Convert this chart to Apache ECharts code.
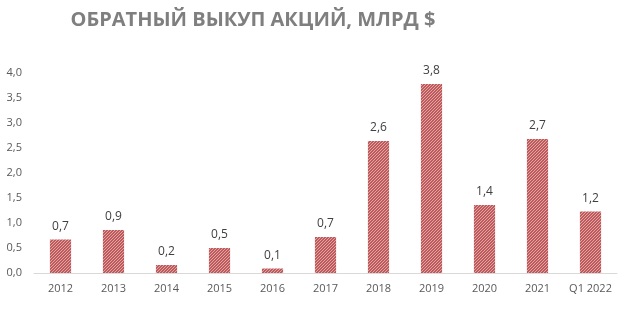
<!DOCTYPE html>
<html><head><meta charset="utf-8">
<script src="https://cdn.jsdelivr.net/npm/echarts@6/dist/echarts.min.js"></script>
<style>html,body{margin:0;padding:0;background:#fff}#c{width:620px;height:314px}</style>
</head><body><div id="c"></div>
<script>
const categories = ['2012','2013','2014','2015','2016','2017','2018','2019','2020','2021','Q1 2022'];
const values = [0.67,0.86,0.16,0.5,0.09,0.72,2.64,3.78,1.36,2.68,1.23];
const yTicks = [0,0.5,1,1.5,2,2.5,3,3.5,4];

const pc = document.createElement('canvas');
pc.width = 3; pc.height = 3;
const g = pc.getContext('2d');
g.fillStyle = '#bd5a5c'; g.fillRect(0,0,3,3);
g.fillStyle = '#e2a4a5';
g.fillRect(2,0,1,1); g.fillRect(1,1,1,1); g.fillRect(0,2,1,1);

const chart = echarts.init(document.getElementById('c'), null, {renderer:'canvas'});
chart.setOption({
  animation:false,
  title:{text:'ОБРАТНЫЙ ВЫКУП АКЦИЙ, МЛРД $', left:248, textAlign:'center', top:5,
    textStyle:{fontFamily:'Open Sans', fontWeight:'bold', fontSize:20, color:'#7f7f7f'}},
  grid:{left:34, right:3, top:73, bottom:41},
  xAxis:{type:'category', data:categories,
    axisLine:{lineStyle:{color:'#d9d9d9', width:1}}, axisTick:{show:false},
    axisLabel:{interval:0, color:'#595959', fontSize:11, fontFamily:'Open Sans', margin:10}},
  yAxis:{type:'value', min:0, max:4, interval:0.5,
    splitLine:{show:false}, axisLine:{show:false}, axisTick:{show:false},
    axisLabel:{color:'#595959', fontSize:11, fontFamily:'Open Sans', margin:12,
      formatter:v=>v.toFixed(1).replace('.',',')}},
  series:[{type:'bar', data:values, barWidth:'40%',
    itemStyle:{color:{image:pc, repetition:'repeat'}},
    label:{show:true, position:'top', distance:7, color:'#404040', fontSize:12, fontFamily:'Open Sans',
      formatter:p=>p.value.toFixed(1).replace('.',',')}}]
});
</script></body></html>
